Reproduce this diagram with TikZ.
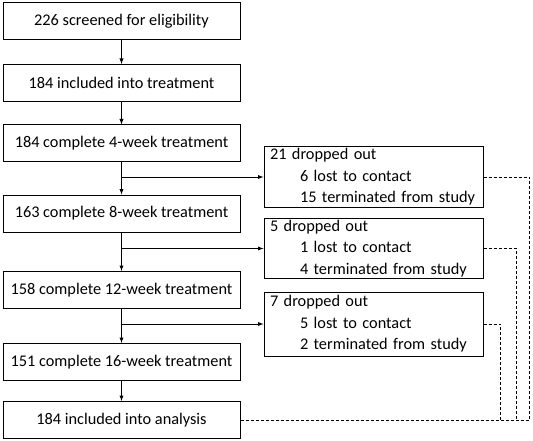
\documentclass[tikz,border=0pt]{standalone}
\usepackage{fontspec}
\setmainfont{Carlito}
\usepackage{tikz}

\tikzset{
  stagebox/.style={draw,line width=1pt,minimum width=237pt,minimum height=37pt,
    inner sep=0pt,font=\fontsize{16.3}{19}\selectfont},
  dropbox/.style={draw,line width=1pt,minimum width=219pt,minimum height=60pt,
    text width=211pt,align=left,inner xsep=4pt,inner ysep=0pt,
    font=\fontsize{16.3}{21.5}\selectfont},
  flow/.style={line width=0.9pt,-latex},
  lost/.style={line width=0.9pt,dash pattern=on 3pt off 2pt}
}

\begin{document}
\begin{tikzpicture}[x=1pt,y=-1pt]
  \useasboundingbox (0,0) rectangle (533,441);
  % main column
  \node[stagebox] (screen) at (121.5,21.5) {226 screened for eligibility};
  \node[stagebox] (treat) at (121.5,83) {184 included into treatment};
  \node[stagebox] (wk4) at (121.5,143.5) {184 complete 4-week treatment};
  \node[stagebox] (wk8) at (121.5,213.5) {163 complete 8-week treatment};
  \node[stagebox] (wk12) at (121.5,290) {158 complete 12-week treatment};
  \node[stagebox] (wk16) at (121.5,362) {151 complete 16-week treatment};
  \node[stagebox] (anal) at (121.5,420) {184 included into analysis};
  % dropouts
  \node[dropbox] (drop4) at (373.5,177) {\hspace*{2pt}21 dropped out\\
    \hspace*{32pt}6 lost to contact\\ \hspace*{32pt}15 terminated from study};
  \node[dropbox] (drop8) at (373.5,248.5) {\hspace*{2pt}5 dropped out\\
    \hspace*{32pt}1 lost to contact\\ \hspace*{32pt}4 terminated from study};
  \node[dropbox,minimum height=64pt] (drop12) at (373.5,324) {\hspace*{2pt}7 dropped out\\
    \hspace*{32pt}5 lost to contact\\ \hspace*{32pt}2 terminated from study};

  \draw[flow] (screen) -- (treat);
  \draw[flow] (treat) -- (wk4);
  \draw[flow] (wk4) -- (wk8);
  \draw[flow] (wk8) -- (wk12);
  \draw[flow] (wk12) -- (wk16);
  \draw[flow] (wk16) -- (anal);
  \draw[flow] (wk4.south |- drop4.west) -- (drop4.west);
  \draw[flow] (wk8.south |- drop8.west) -- (drop8.west);
  \draw[flow] (wk12.south |- drop12.west) -- (drop12.west);

  % dashed returns into analysis
  \draw[lost] (drop4.east) -- ++(46,0) |- (anal.east);
  \draw[lost] (drop8.east) -- ++(33,0) coordinate (j8) -- (j8 |- anal.east);
  \draw[lost] (drop12.east) -- ++(17,0) coordinate (j12) -- (j12 |- anal.east);
\end{tikzpicture}
\end{document}
